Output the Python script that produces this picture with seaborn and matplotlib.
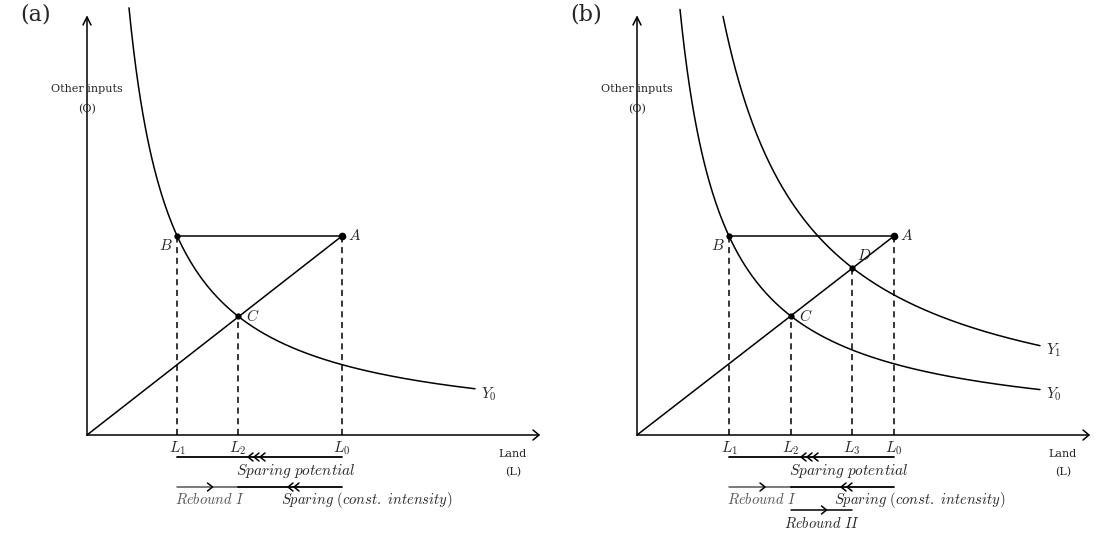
import numpy as np
import matplotlib
matplotlib.use("Agg")
import matplotlib.pyplot as plt
import seaborn as sns

sns.set_style("white")
plt.rcParams['font.family'] = ['DejaVu Serif']
plt.rcParams['mathtext.fontset'] = 'cm'

# Diagram data (units: arbitrary, origin at 0)
pts_a = {"A": (255, 199), "B": (90, 199), "C": (151, 119)}
pts_b = {"A": (257, 199), "B": (92, 199), "C": (154, 119), "D": (215, 167)}
k_a = [17940]
k_b = [18300, 36000]
xstart_a = [42]
xstart_b = [43, 86]
xend_a = [388]
xend_b = [403, 403]
curve_labels_a = [r"$Y_0$"]
curve_labels_b = [r"$Y_0$", r"$Y_1$"]

fig = plt.figure(figsize=(10.96, 5.35), dpi=100)

def chevron(ax, x, y, d, n=1, s=5, gap=6):
    for i in range(n):
        xx = x + i * gap * d
        ax.plot([xx + d*s, xx, xx + d*s], [y + s*0.8, y, y - s*0.8], color="black", lw=1.1)

def panel(ax, pts, ks, xs, xe, clabels, tag, extra):
    ax.set_xlim(-87, 461); ax.set_ylim(-100, 435)
    ax.axis("off")
    ax.plot([0, 452], [0, 0], color="black", lw=1.1)
    ax.plot([0, 0], [0, 418], color="black", lw=1.1)
    ax.plot([446, 452, 446], [5, 0, -5], color="black", lw=1.1)
    ax.plot([-4, 0, 4], [410, 418, 410], color="black", lw=1.1)
    for k, x0, x1, lab in zip(ks, xs, xe, clabels):
        x = np.linspace(x0, x1, 300)
        sns.lineplot(x=x, y=k / x, ax=ax, color="black", lw=1.1, sort=False)
        ax.text(x1 + 6, k / x1 - 5, lab, fontsize=11, va="center")
    A, B, C = pts["A"], pts["B"], pts["C"]
    ax.plot([0, A[0]], [0, A[1]], color="black", lw=1.1)
    ax.plot([B[0], A[0]], [B[1], A[1]], color="black", lw=1.1)
    Ls = [("B", r"$L_1$"), ("C", r"$L_2$"), ("A", r"$L_0$")]
    if "D" in pts: Ls.append(("D", r"$L_3$"))
    for key, lab in Ls:
        p = pts[key]
        ax.plot([p[0], p[0]], [0, p[1]], color="black", lw=1.1, ls=(0, (4, 3)))
        ax.text(p[0], -4, lab, fontsize=11, ha="center", va="top")
    for key, p in pts.items():
        ax.plot(*p, "o", color="black", ms=4.5 if key == "A" else 3.5)
    ax.text(A[0] + 6, A[1], "$A$", fontsize=11, va="center")
    ax.text(B[0] - 4, B[1] - 10, "$B$", fontsize=11, ha="right", va="center")
    ax.text(C[0] + 8, C[1], "$C$", fontsize=11, va="center")
    if "D" in pts:
        D = pts["D"]; ax.text(D[0] + 5, D[1] + 12, "$D$", fontsize=11, va="center")
    ax.text(-67, 420, tag, fontsize=16, va="center")
    ax.text(0, 343, "Other inputs", fontsize=8, ha="center")
    ax.text(0, 323, "(O)", fontsize=8, ha="center")
    ax.text(426, -22, "Land", fontsize=8, ha="center")
    ax.text(426, -40, "(L)", fontsize=8, ha="center")
    # annotation lines
    ax.plot([B[0], A[0]], [-22, -22], color="black", lw=1.3)
    chevron(ax, C[0] + 10, -22, 1, n=3)
    ax.text((C[0] + A[0]) / 2 + 6, -36, r"$\mathit{Sparing\ potential}$", fontsize=11, ha="center", va="center")
    ax.plot([B[0], C[0]], [-52, -52], color="#555555", lw=1.1)
    chevron(ax, (B[0] + C[0]) / 2 + 5, -52, -1)
    ax.plot([C[0], A[0]], [-52, -52], color="black", lw=1.3)
    chevron(ax, C[0] + 50, -52, 1, n=2)
    ax.text(B[0] - 2, -65, r"$\mathit{Rebound\ I}$", fontsize=10.5, color="#555555", va="center")
    ax.text(C[0] + 43, -65, r"$\mathit{Sparing\ (const.\ intensity)}$", fontsize=10.5, va="center")
    if extra:
        D = pts["D"]
        ax.plot([C[0], D[0]], [-75, -75], color="black", lw=1.1)
        chevron(ax, (C[0] + D[0]) / 2 + 5, -75, -1)
        ax.text((C[0] + D[0]) / 2, -89, r"$\mathit{Rebound\ II}$", fontsize=10.5, ha="center", va="center")

ax1 = fig.add_axes([0, 0, 0.5, 1])
ax2 = fig.add_axes([0.5, 0, 0.5, 1])
panel(ax1, pts_a, k_a, xstart_a, xend_a, curve_labels_a, "(a)", False)
panel(ax2, pts_b, k_b, xstart_b, xend_b, curve_labels_b, "(b)", True)
ax2.set_xlim(-89, 459)
fig.savefig("out.png", dpi=100)
